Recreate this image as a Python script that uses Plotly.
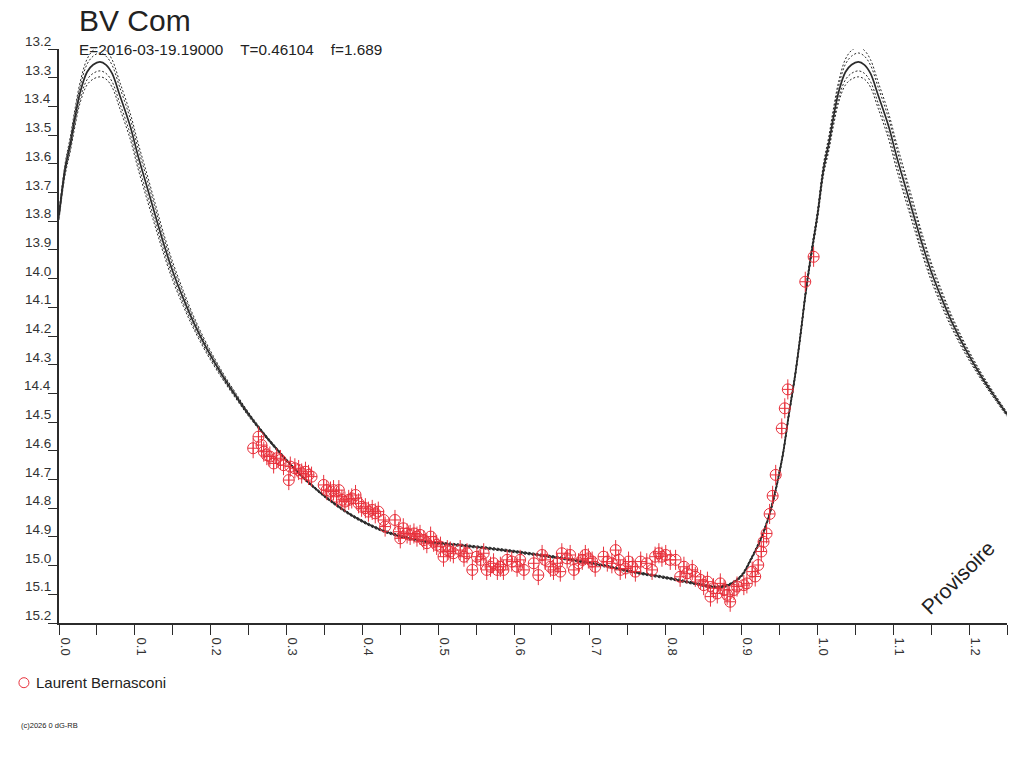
import plotly.graph_objects as go

# model light curve for one cycle (phase, magnitude)
model_phase = [0.000, 0.008, 0.015, 0.021, 0.028, 0.037, 0.045, 0.054, 0.062, 0.070,
               0.080, 0.094, 0.104, 0.116, 0.127, 0.137, 0.150, 0.164, 0.177, 0.195,
               0.216, 0.235, 0.250, 0.270, 0.290, 0.305, 0.331, 0.358, 0.388, 0.423,
               0.454, 0.489, 0.533, 0.586, 0.625, 0.670, 0.714, 0.757, 0.802, 0.836,
               0.868, 0.885, 0.900, 0.912, 0.925, 0.934, 0.942, 0.954, 0.962, 0.971,
               0.978, 0.984, 0.991, 1.000]
model_mag = [13.78, 13.62, 13.53, 13.44, 13.35, 13.28, 13.255, 13.245, 13.255, 13.285,
             13.36, 13.47, 13.57, 13.68, 13.78, 13.87, 13.975, 14.07, 14.15, 14.245,
             14.34, 14.416, 14.473, 14.541, 14.603, 14.647, 14.715, 14.774, 14.828, 14.874,
             14.90, 14.918, 14.93, 14.946, 14.96, 14.977, 14.998, 15.022, 15.043, 15.061,
             15.075, 15.065, 15.035, 14.98, 14.91, 14.845, 14.77, 14.62, 14.48, 14.33,
             14.19, 14.06, 13.93, 13.78]
# half-width of the outer dashed envelope
model_spread = [0.015, 0.02, 0.025, 0.03, 0.036, 0.045, 0.05, 0.052, 0.05, 0.048,
                0.046, 0.045, 0.045, 0.044, 0.04, 0.036, 0.032, 0.027, 0.022, 0.017,
                0.012, 0.009, 0.007, 0.005, 0.005, 0.004, 0.004, 0.004, 0.004, 0.004,
                0.004, 0.004, 0.004, 0.004, 0.004, 0.004, 0.004, 0.004, 0.004, 0.004,
                0.004, 0.004, 0.005, 0.005, 0.006, 0.006, 0.007, 0.008, 0.009, 0.01,
                0.011, 0.012, 0.013, 0.015]

# observations (Laurent Bernasconi)
obs_phase = [0.256, 0.263, 0.267, 0.270, 0.274, 0.278, 0.283, 0.287, 0.292, 0.296,
             0.303, 0.305, 0.311, 0.316, 0.320, 0.325, 0.329, 0.333, 0.349, 0.353,
             0.358, 0.362, 0.369, 0.366, 0.373, 0.377, 0.382, 0.386, 0.391, 0.395,
             0.399, 0.404, 0.408, 0.413, 0.417, 0.421, 0.428, 0.430, 0.443, 0.448,
             0.450, 0.454, 0.459, 0.463, 0.468, 0.472, 0.476, 0.481, 0.485, 0.490,
             0.494, 0.498, 0.503, 0.507, 0.512, 0.516, 0.520, 0.529, 0.534, 0.538,
             0.545, 0.551, 0.556, 0.560, 0.564, 0.569, 0.573, 0.578, 0.582, 0.586,
             0.591, 0.597, 0.604, 0.608, 0.613, 0.626, 0.632, 0.637, 0.641, 0.648,
             0.652, 0.657, 0.661, 0.663, 0.670, 0.674, 0.679, 0.685, 0.690, 0.694,
             0.698, 0.703, 0.707, 0.718, 0.723, 0.729, 0.734, 0.738, 0.740, 0.747,
             0.751, 0.756, 0.760, 0.767, 0.775, 0.782, 0.786, 0.791, 0.795, 0.800,
             0.806, 0.813, 0.819, 0.824, 0.828, 0.835, 0.839, 0.846, 0.850, 0.855,
             0.859, 0.863, 0.868, 0.872, 0.877, 0.881, 0.885, 0.890, 0.894, 0.903,
             0.907, 0.914, 0.918, 0.922, 0.926, 0.929, 0.933, 0.937, 0.941, 0.945,
             0.953, 0.957, 0.961, 0.984, 0.995]
obs_mag = [14.591, 14.551, 14.580, 14.603, 14.615, 14.620, 14.644, 14.626, 14.632, 14.650,
           14.702, 14.655, 14.661, 14.667, 14.679, 14.673, 14.684, 14.690, 14.719, 14.737,
           14.742, 14.737, 14.737, 14.760, 14.771, 14.777, 14.771, 14.766, 14.754, 14.783,
           14.795, 14.800, 14.812, 14.806, 14.818, 14.812, 14.841, 14.864, 14.841, 14.882,
           14.905, 14.870, 14.888, 14.893, 14.888, 14.899, 14.893, 14.911, 14.922, 14.899,
           14.917, 14.928, 14.934, 14.969, 14.946, 14.951, 14.957, 14.946, 14.969, 14.957,
           15.015, 14.969, 14.980, 14.957, 15.015, 15.004, 14.992, 15.015, 15.004, 15.015,
           14.980, 14.986, 15.004, 14.980, 15.015, 14.992, 15.033, 14.963, 14.980, 15.004,
           15.015, 14.992, 15.021, 14.957, 14.975, 14.963, 15.015, 14.992, 14.980, 14.963,
           14.975, 14.986, 15.004, 14.969, 14.986, 14.992, 14.946, 14.980, 15.015, 15.010,
           14.986, 15.004, 15.021, 14.986, 14.992, 15.015, 14.969, 14.957, 14.969, 14.963,
           14.980, 14.980, 15.039, 15.004, 15.027, 15.015, 15.039, 15.050, 15.068, 15.056,
           15.108, 15.079, 15.097, 15.062, 15.085, 15.102, 15.126, 15.085, 15.073, 15.068,
           15.062, 15.021, 15.038, 14.998, 14.951, 14.917, 14.888, 14.820, 14.757, 14.684,
           14.522, 14.452, 14.386, 14.011, 13.924]
obs_err = 0.035

x_ticks = [0.0, 0.1, 0.2, 0.3, 0.4, 0.5, 0.6, 0.7, 0.8, 0.9, 1.0, 1.1, 1.2]
y_ticks = [13.2 + 0.1 * i for i in range(21)]

INK = "#2b2b2b"
RED = "#e8313c"
FONT = "Liberation Sans"

# repeat the start of the cycle after phase 1.0
ph = model_phase + [p + 1 for p in model_phase[1:] if p <= 0.25]
mg = model_mag + [m for p, m in zip(model_phase[1:], model_mag[1:]) if p <= 0.25]
sp = model_spread + [s for p, s in zip(model_phase[1:], model_spread[1:]) if p <= 0.25]

fig = go.Figure()

# dashed envelopes
for k in (-1.0, -0.6, 0.6, 1.0):
    fig.add_trace(go.Scatter(
        x=ph, y=[m + k * s for m, s in zip(mg, sp)],
        mode="lines", line=dict(color=INK, width=1, dash="2px,2px", shape="spline"),
        showlegend=False, hoverinfo="skip",
    ))

# mean model
fig.add_trace(go.Scatter(
    x=ph, y=mg, mode="lines",
    line=dict(color=INK, width=1.7, shape="spline"),
    showlegend=False,
))

# observations
fig.add_trace(go.Scatter(
    x=obs_phase, y=obs_mag, mode="markers", name="Laurent Bernasconi",
    marker=dict(symbol="circle-cross-open", size=11, color=RED, line=dict(width=1, color=RED)),
    error_y=dict(type="constant", value=obs_err, color=RED, thickness=1, width=0),
    showlegend=False,
))

# y tick labels sit just above their tick
for v in y_ticks:
    fig.add_annotation(x=0, xref="paper", y=v, yref="y", text=f"{v:.1f}",
                       showarrow=False, xanchor="right", yanchor="bottom",
                       xshift=-6, yshift=-2,
                       font=dict(family=FONT, size=13.5, color="#333"))

# legend (drawn by hand: small circle + name)
fig.add_shape(type="circle", xref="paper", yref="paper", xsizemode="pixel", ysizemode="pixel",
              xanchor=-0.037, yanchor=-0.104, x0=-5, x1=5, y0=-5, y1=5,
              line=dict(color=RED, width=1))
fig.add_annotation(x=-0.026, y=-0.104, xref="paper", yref="paper", text="Laurent Bernasconi",
                   showarrow=False, xanchor="left", yanchor="middle",
                   font=dict(family=FONT, size=15, color="#222"))

fig.add_annotation(x=0.019, y=1.05, xref="paper", yref="paper", text="BV Com",
                   showarrow=False, xanchor="left", yanchor="middle",
                   font=dict(family=FONT, size=30, color="#222"))
fig.add_annotation(x=0.019, y=1.0, xref="paper", yref="paper",
                   text="E=2016-03-19.19000\u00a0\u00a0\u00a0\u00a0T=0.46104\u00a0\u00a0\u00a0\u00a0f=1.689",
                   showarrow=False, xanchor="left", yanchor="middle",
                   font=dict(family=FONT, size=15.3, color="#222"))
fig.add_annotation(x=0.948, y=0.08, xref="paper", yref="paper", text="Provisoire",
                   showarrow=False, textangle=-45, xanchor="center", yanchor="middle",
                   font=dict(family=FONT, size=21, color="#222"))
fig.add_annotation(x=-0.042, y=-0.179, xref="paper", yref="paper", text="(c)2026 0 dG-RB",
                   showarrow=False, xanchor="left", yanchor="middle",
                   font=dict(family=FONT, size=7.5, color="#222"))

fig.update_layout(
    width=1024, height=768,
    margin=dict(l=59, r=17, t=49, b=145, autoexpand=False),
    plot_bgcolor="white", paper_bgcolor="white",
    font=dict(family=FONT, size=13, color="#222"),
    showlegend=False,
    xaxis=dict(
        range=[0, 1.25], tickvals=x_ticks, tickformat=".1f", tickangle=90,
        ticks="outside", ticklen=10, tickcolor=INK, ticklabelshift=6,
        minor=dict(dtick=0.05, tick0=0, ticks="outside", ticklen=10, tickcolor=INK),
        showline=True, linecolor=INK, linewidth=2, showgrid=False, zeroline=False,
        tickfont=dict(size=13, color="#333"),
    ),
    yaxis=dict(
        range=[15.2, 13.2], tickvals=y_ticks, showticklabels=False,
        ticks="outside", ticklen=9, tickcolor=INK,
        showline=True, linecolor=INK, linewidth=1.5, showgrid=False, zeroline=False,
    ),
)

# drop the page's default body margin so the figure fills the window exactly
fig.write_html("out.html", config={"displayModeBar": False},
               post_script="document.body.style.margin = '0';")
